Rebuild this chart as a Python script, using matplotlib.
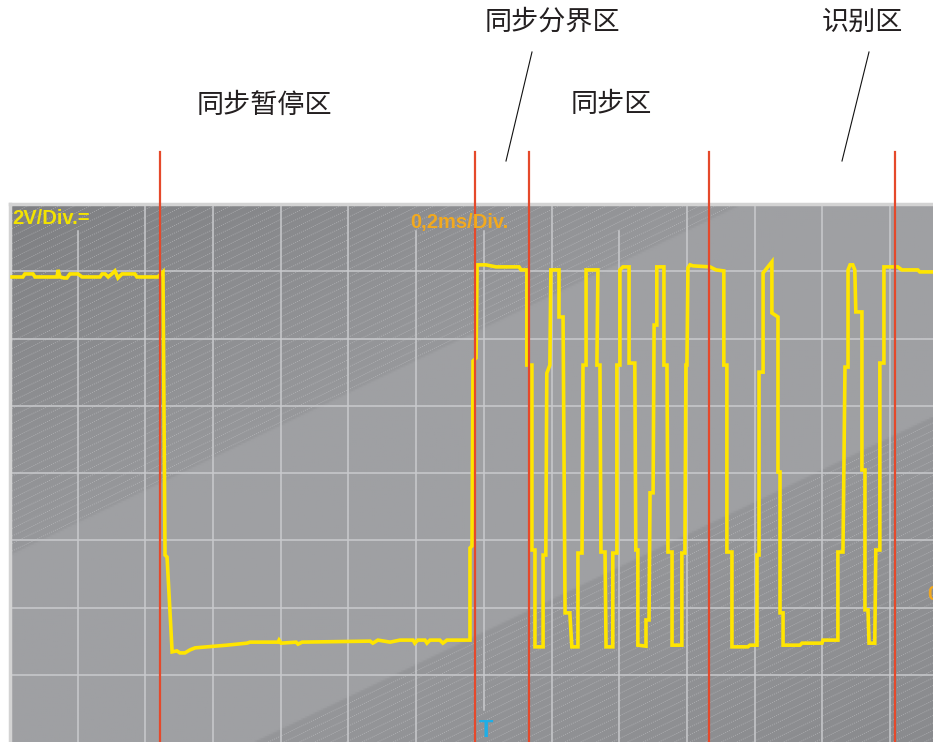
# Scope screenshot: sync pause / sync boundary / sync / identification zones

import numpy as np
import matplotlib.pyplot as plt
from matplotlib.lines import Line2D

plt.rcParams['font.family'] = ['Noto Sans CJK SC', 'DejaVu Sans']

# Trace: time (ms) and voltage (V, 0 = bottom of screen)
trace_t_ms = [
    0.006, 0.038, 0.044, 0.068, 0.074, 0.139, 0.142, 0.148, 0.160, 0.168,
    0.177, 0.201, 0.213, 0.266, 0.272, 0.281, 0.290, 0.301, 0.310, 0.319,
    0.331, 0.369, 0.375, 0.437, 0.452, 0.458, 0.464, 0.479, 0.493, 0.502,
    0.517, 0.532, 0.547, 0.582, 0.641, 0.700, 0.709, 0.792, 0.795, 0.801,
    0.845, 0.851, 0.863, 1.064, 1.072, 1.087, 1.123, 1.152, 1.191, 1.196,
    1.205, 1.226, 1.232, 1.241, 1.270, 1.279, 1.291, 1.359, 1.359, 1.365,
    1.368, 1.377, 1.380, 1.406, 1.436, 1.504, 1.510, 1.527, 1.527, 1.542,
    1.542, 1.551, 1.551, 1.575, 1.575, 1.583, 1.586, 1.595, 1.598, 1.622,
    1.622, 1.634, 1.640, 1.654, 1.660, 1.678, 1.678, 1.690, 1.693, 1.702,
    1.702, 1.737, 1.734, 1.743, 1.746, 1.758, 1.761, 1.781, 1.781, 1.793,
    1.793, 1.802, 1.802, 1.811, 1.829, 1.829, 1.846, 1.849, 1.855, 1.855,
    1.879, 1.879, 1.888, 1.891, 1.900, 1.903, 1.911, 1.911, 1.932, 1.932,
    1.941, 1.944, 1.956, 1.956, 1.985, 1.985, 1.994, 1.997, 2.000, 2.003,
    2.009, 2.018, 2.068, 2.086, 2.109, 2.109, 2.118, 2.118, 2.133, 2.133,
    2.180, 2.186, 2.207, 2.207, 2.213, 2.213, 2.225, 2.225, 2.251, 2.251,
    2.269, 2.269, 2.275, 2.275, 2.284, 2.284, 2.334, 2.340, 2.399, 2.402,
    2.446, 2.446, 2.461, 2.467, 2.476, 2.476, 2.482, 2.490, 2.496, 2.499,
    2.517, 2.517, 2.526, 2.526, 2.535, 2.538, 2.555, 2.558, 2.570, 2.570,
    2.582, 2.582, 2.623, 2.635, 2.682, 2.688, 2.727,
]
trace_v = [
    13.83, 13.83, 13.92, 13.92, 13.83, 13.83, 14.04, 13.83, 13.80, 13.80,
    13.92, 13.92, 13.83, 13.83, 13.92, 13.92, 13.83, 13.92, 14.01, 13.80,
    13.92, 13.92, 13.83, 13.83, 13.98, 5.56, 5.50, 2.68, 2.71, 2.65,
    2.65, 2.74, 2.80, 2.83, 2.88, 2.94, 2.97, 2.97, 3.03, 2.94,
    2.97, 2.91, 2.97, 3.00, 2.94, 3.03, 2.97, 3.03, 3.03, 2.94,
    3.03, 3.03, 2.94, 3.03, 3.03, 2.94, 3.03, 3.03, 5.77, 5.83,
    11.33, 11.42, 14.19, 14.19, 14.13, 14.13, 14.04, 14.04, 11.21, 11.21,
    5.71, 5.71, 2.83, 2.83, 5.56, 5.56, 10.97, 11.21, 14.04, 14.04,
    12.64, 12.64, 3.84, 3.84, 2.83, 2.83, 5.62, 5.62, 11.21, 11.21,
    14.04, 14.04, 11.21, 11.21, 5.65, 5.65, 2.83, 2.83, 5.62, 5.62,
    11.21, 11.21, 14.04, 14.13, 14.13, 11.27, 11.27, 5.71, 5.71, 2.88,
    2.85, 3.63, 3.63, 7.41, 7.41, 12.40, 12.40, 14.13, 14.13, 11.21,
    11.21, 5.65, 5.65, 2.88, 2.88, 5.62, 5.62, 11.21, 11.21, 14.10,
    14.19, 14.16, 14.13, 14.04, 14.01, 11.21, 11.21, 5.65, 5.65, 2.83,
    2.83, 2.88, 2.88, 5.56, 5.56, 11.00, 11.00, 13.95, 14.28, 12.76,
    12.64, 8.03, 8.03, 3.84, 3.84, 2.88, 2.88, 2.94, 2.94, 3.03,
    3.03, 5.65, 5.65, 11.15, 11.15, 14.04, 14.19, 14.19, 14.04, 12.79,
    12.79, 8.09, 8.09, 3.93, 3.93, 2.94, 2.94, 5.71, 5.71, 11.27,
    11.27, 14.13, 14.13, 14.04, 14.04, 13.98, 13.98,
]

# zone boundaries (ms)
cursor_ms = [0.443, 1.374, 1.533, 2.065, 2.614]

# zone labels: text, centre x (px), centre y (px)
zone_labels = ['同步暂停区', '同步分界区', '同步区', '识别区']
label_x = [264, 552, 611, 862]
label_y = [105, 22, 105, 22]

ms_per_div = 0.2
v_per_div = 2.0
t_max = 2.727
v_max = 16.0

W, H = 933, 742
fig = plt.figure(figsize=(W / 100, H / 100), dpi=100)
fig.patch.set_facecolor('white')

ax_left, ax_top = 10, 204
ax = fig.add_axes([ax_left / W, 0, (W - ax_left) / W, (H - ax_top) / H])
ax.set_xticks([])
ax.set_yticks([])
for s in ['right', 'bottom']:
    ax.spines[s].set_visible(False)
for s in ['top', 'left']:
    ax.spines[s].set_color('#d3d3d3')
    ax.spines[s].set_linewidth(2.5)

# screen background with a diagonal glare (row 0 = top of screen)
pw, ph = W - ax_left, H - ax_top
px, py = np.meshgrid(np.linspace(0, pw, 460), np.linspace(0, ph, 270))
d = py + 0.48 * px
grey = np.interp(d, [0, 350, 352, 655, 657, 990], [126, 151, 159, 159, 149, 137]) / 255
img = np.dstack([grey, grey + 1 / 255, grey + 4 / 255])
ax.imshow(np.clip(img, 0, 1), extent=[0, t_max, 0, v_max], origin='upper',
          aspect='auto', zorder=0)

hatch_d = list(np.arange(3, 350, 7.5)) + list(np.arange(662, 990, 7.5))
xs = np.array([0, pw])
for c in hatch_d:
    ys = c - 0.48 * xs
    ax.plot(xs / pw * t_max, v_max * (1 - ys / ph), color='#c8c9cc', lw=0.6,
            ls=(0, (1.2, 1.4)), alpha=0.6, zorder=1)

# graticule
for v in np.arange(v_per_div, v_max, v_per_div):
    ax.axhline(v, color='#c9cacd', lw=1.1, zorder=2)
short_top = {1: 15.2, 6: 15.2, 7: 15.2, 9: 15.2}
short_bot = {7: 0.95}
for k in range(1, 14):
    t = k * ms_per_div
    ax.plot([t, t], [short_bot.get(k, 0), short_top.get(k, v_max)],
            color='#c9cacd', lw=1.1, zorder=2)

# signal
ax.plot(trace_t_ms, trace_v, color='#ffe500', lw=2.6, zorder=4,
        solid_joinstyle='miter')

ax.set_xlim(0, t_max)
ax.set_ylim(0, v_max)

# zone cursors, running up into the white header
for t in cursor_ms:
    ax.plot([t, t], [0, 17.55], color='#e5492b', lw=1.6, zorder=5, clip_on=False)

# on-screen readouts
ax.text(0.002, 1 - 20 / ph, '2V/Div.=', transform=ax.transAxes, color='#f3e300',
        fontsize=14.5, fontweight='bold', family='Liberation Sans', va='baseline', zorder=6)
ax.text(400 / pw, 1 - 24 / ph, '0,2ms/Div.', transform=ax.transAxes, color='#f2a91e',
        fontsize=14.5, fontweight='bold', family='Liberation Sans', va='baseline', zorder=6)
ax.text(476 / pw, 5 / ph, 'T', transform=ax.transAxes, color='#1eaee6',
        fontsize=17, fontweight='bold', family='Liberation Sans', ha='center',
        va='baseline', zorder=6)
fig.text(927 / W, 1 - 594 / H, '0', color='#f2a91e', fontsize=14.5, fontweight='bold',
         family='Liberation Sans', va='center', ha='left')

# zone labels and leader lines
for name, lx, ly in zip(zone_labels, label_x, label_y):
    fig.text(lx / W, 1 - ly / H, name, ha='center', va='center', fontsize=19.5,
             color='#231f20')
for x0, y0, x1, y1 in [(532, 52, 506, 161), (869, 52, 842, 161)]:
    fig.add_artist(Line2D([x0 / W, x1 / W], [1 - y0 / H, 1 - y1 / H],
                          color='#111111', lw=0.8))

fig.savefig('out.png', dpi=100)
